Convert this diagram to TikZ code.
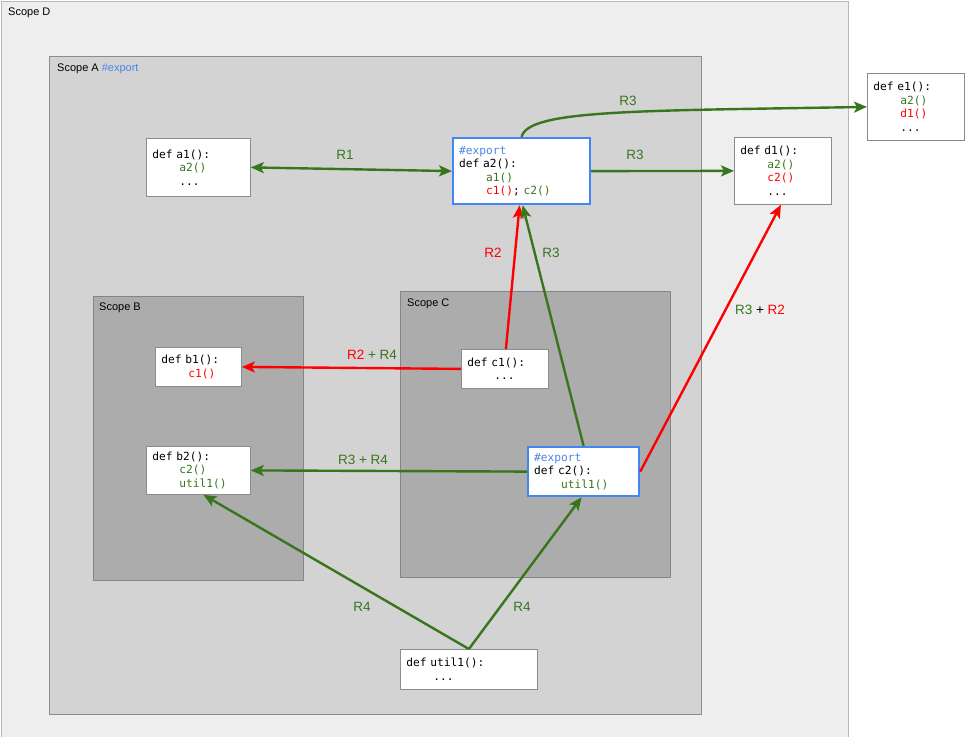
\documentclass[tikz,border=0pt]{standalone}
\usepackage{fontspec}
\setmainfont{Liberation Sans}
\setmonofont{DejaVu Sans Mono}
\usetikzlibrary{arrows.meta}
\definecolor{gr}{HTML}{38761D}
\definecolor{rd}{HTML}{FF0000}
\definecolor{bl}{HTML}{4A86E8}
\definecolor{bbord}{HTML}{4285F4}
\definecolor{scD}{HTML}{EEEEEE}
\definecolor{scA}{HTML}{D3D3D3}
\definecolor{scB}{HTML}{ACACAC}
\newcommand{\ind}{\phantom{0000}}
\begin{document}
\begin{tikzpicture}[x=1pt,y=-1pt,
  scope/.style={draw=#1, line width=0.8pt},
  scopelab/.style={anchor=west, font=\fontsize{11}{13}\selectfont, inner sep=0pt},
  code/.style={draw=black!45, fill=white, line width=0.8pt, anchor=north west,
    inner xsep=6pt, inner ysep=2pt, align=left,
    font=\fontsize{11.2}{13.5}\selectfont\ttfamily},
  expbox/.style={code, draw=bbord, line width=2.2pt},
  lab/.style={font=\fontsize{13.5}{16}\selectfont, inner sep=0pt},
  garr/.style={draw=gr, line width=2.4pt, -{Stealth[length=13pt,width=11pt,inset=3pt]}},
  rarr/.style={draw=rd, line width=2.4pt, -{Stealth[length=13pt,width=11pt,inset=3pt]}},
]
\useasboundingbox (0,0) rectangle (965,736);
\clip (0,0) rectangle (965,736);
% scopes
\draw[scope=black!28, fill=scD] (1,1) rectangle (848,745);
\node[scopelab] (sD) at (8,13) {Scope D};
\draw[scope=black!45, fill=scA] (49,56) rectangle (701,714);
\node[scopelab] (sA) at (57,69) {Scope A \textcolor{bl}{\#export}};
\draw[scope=black!48, fill=scB] (93,296) rectangle (303,580);
\node[scopelab] (sB) at (99,308) {Scope B};
\draw[scope=black!48, fill=scB] (400,291) rectangle (670,577);
\node[scopelab] (sC) at (407,304) {Scope C};
% function boxes
\node[code, text width=92pt, minimum height=58pt] (a1) at (146,138)
  {def a1():\\\ind\textcolor{gr}{a2()}\\\ind...};
\node[expbox, text width=125pt, minimum height=66pt] (a2) at (452,137)
  {\textcolor{bl}{\#export}\\def a2():\\\ind\textcolor{gr}{a1()}\\\ind\textcolor{rd}{c1()}; \textcolor{gr}{c2()}};
\node[code, text width=85pt, minimum height=67pt] (d1) at (734,137)
  {def d1():\\\ind\textcolor{gr}{a2()}\\\ind\textcolor{rd}{c2()}\\\ind...};
\node[code, text width=85pt, minimum height=67pt] (e1) at (867,73)
  {def e1():\\\ind\textcolor{gr}{a2()}\\\ind\textcolor{rd}{d1()}\\\ind...};
\node[code, text width=74pt, minimum height=39pt] (b1) at (155,347)
  {def b1():\\\ind\textcolor{rd}{c1()}};
\node[code, text width=75pt, minimum height=39pt] (c1) at (461,349)
  {def c1():\\\ind...};
\node[code, text width=92pt, minimum height=48pt] (b2) at (146,446)
  {def b2():\\\ind\textcolor{gr}{c2()}\\\ind\textcolor{gr}{util1()}};
\node[expbox, text width=99pt, minimum height=49pt] (c2) at (527,446)
  {\textcolor{bl}{\#export}\\def c2():\\\ind\textcolor{gr}{util1()}};
\node[code, text width=125pt, minimum height=40pt] (u1) at (400,649)
  {def util1():\\\ind...};
% connectors
\draw[garr, {Stealth[length=13pt,width=11pt,inset=3pt]}-{Stealth[length=13pt,width=11pt,inset=3pt]}] (a1.east) -- (a2.west);
\draw[garr] (a2.east) -- (d1.west);
\draw[garr] (a2.north) to[out=78, in=181, out distance=28pt, in distance=230pt] (e1.west);
\draw[rarr] ([xshift=1pt]c1.north) -- ([xshift=-2pt]a2.south);
\draw[garr] (c2.north) -- ([xshift=1pt]a2.south);
\draw[rarr] (c1.west) -- (b1.east);
\draw[garr] (c2.west) -- (b2.east);
\draw[rarr] (c2.east) -- ([xshift=-2pt]d1.south);
\draw[garr] (u1.north) -- ([xshift=5pt]b2.south);
\draw[garr] (u1.north) -- ([xshift=-2pt]c2.south);
% labels
\node[lab, text=gr] (l1) at (345,155) {R1};
\node[lab, text=gr] (l2) at (635,155) {R3};
\node[lab, text=gr] (l3) at (628,101) {R3};
\node[lab, text=rd] (l4) at (493,253) {R2};
\node[lab, text=gr] (l5) at (551,253) {R3};
\node[lab] (l6) at (372,355) {\textcolor{rd}{R2} \textcolor{gr}{+ R4}};
\node[lab, text=gr] (l7) at (363,460) {R3 + R4};
\node[lab] (l8) at (760,310) {\textcolor{gr}{R3} + \textcolor{rd}{R2}};
\node[lab, text=gr] (l9) at (362,607) {R4};
\node[lab, text=gr] (l10) at (522,607) {R4};
\end{tikzpicture}
\end{document}
